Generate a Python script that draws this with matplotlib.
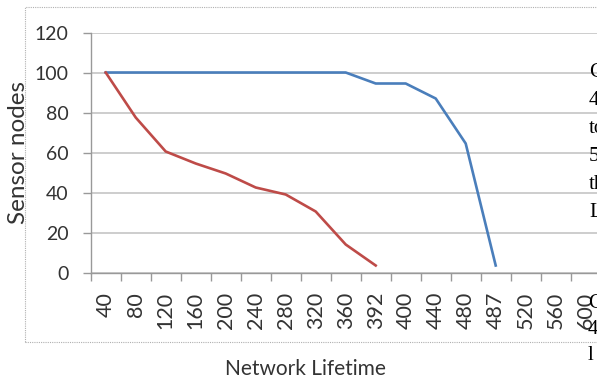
import numpy as np
import matplotlib
matplotlib.use("Agg")
import matplotlib.pyplot as plt
from matplotlib.patches import Rectangle

# network lifetime (rounds) on the category axis
lifetime = ["40", "80", "120", "160", "200", "240", "280", "320", "360",
            "392", "400", "440", "480", "487", "520", "560", "600"]

# alive sensor nodes for the two protocols
proposed = [100, 100, 100, 100, 100, 100, 100, 100, 100,
            94.5, 94.5, 87, 64.5, 3.5, np.nan, np.nan, np.nan]
existing = [100, 77.5, 60.5, 54.5, 49.5, 42.5, 39, 30.5, 14,
            3.5, np.nan, np.nan, np.nan, np.nan, np.nan, np.nan, np.nan]

yticks = [0, 20, 40, 60, 80, 100, 120]

# text running next to the chart on the page
side_top = ["C", "4", "to", "5", "th", "L"]
side_bottom = ["C", "4", "l"]

W, H = 597, 383
plt.rcParams['font.family'] = ['Lato', 'DejaVu Sans']

fig = plt.figure(figsize=(W / 100, H / 100), dpi=100)
ax = fig.add_axes([90.7 / W, (H - 272.5) / H, 510 / W, 240 / H])

x = np.arange(len(lifetime))
ax.plot(x, proposed, color='#4a7ebb', lw=1.9, solid_joinstyle='round', zorder=3)
ax.plot(x, existing, color='#be4b48', lw=1.9, solid_joinstyle='round', zorder=3)

ax.set_xlim(-0.5, len(lifetime) - 0.5)
ax.set_ylim(0, 120)
ax.set_yticks(yticks)
ax.yaxis.grid(True, color='#c0c0c0', lw=1.1)
ax.set_axisbelow(True)

ax.set_xticks(x)
ax.set_xticklabels(lifetime, rotation=90)
ax.set_xticks(np.arange(-0.5, len(lifetime)), minor=True)
ax.tick_params(axis='x', which='major', length=0, pad=14, labelsize=15.5, labelcolor='#333333')
ax.tick_params(axis='x', which='minor', length=6, width=1, color='#999999', direction='out')
ax.tick_params(axis='y', length=6, width=1, color='#999999', pad=10, labelsize=14,
               labelcolor='#333333')

for s in ['top', 'right']:
    ax.spines[s].set_visible(False)
for s in ['left', 'bottom']:
    ax.spines[s].set_color('#999999')
    ax.spines[s].set_linewidth(1)

fig.text(305 / W, 1 - 369 / H, "Network Lifetime", ha='center', va='center',
         fontsize=15, color='#333333')
fig.text(19 / W, 1 - 152 / H, "Sensor nodes", ha='center', va='center',
         rotation=90, fontsize=17.5, color='#333333')

# dotted chart border
fig.patches.append(Rectangle((25 / W, 1 - 341.7 / H), 1.0, (341.7 - 7) / H,
                             transform=fig.transFigure, fill=False,
                             ls=(0, (1, 1)), ec='#b0b0b0', lw=0.8))

for i, t in enumerate(side_top):
    fig.text(589 / W, 1 - (77 + 28 * i) / H, t, family='Liberation Serif',
             fontsize=15, color='black', va='baseline', zorder=5)
for i, t in enumerate(side_bottom):
    fig.text(588 / W, 1 - (308 + 26 * i) / H, t, family='Liberation Serif',
             fontsize=15, color='black', va='baseline', zorder=5)

fig.savefig("out.png", dpi=100)
